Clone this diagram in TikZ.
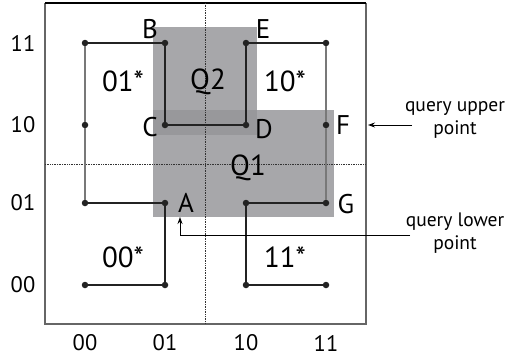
\documentclass[tikz,border=0pt]{standalone}
\usepackage{fontspec}
\setmainfont{PT Sans}
\usetikzlibrary{arrows.meta}
\definecolor{qone}{RGB}{167,167,170}
\definecolor{qover}{RGB}{152,152,155}
\definecolor{curve}{RGB}{35,35,35}
\definecolor{vgray}{RGB}{120,120,120}
\begin{document}
\begin{tikzpicture}[x=1pt,y=-1pt,
  dot/.style={circle,fill=curve,inner sep=0pt,minimum size=6.5pt},
  seg/.style={draw=curve,line width=1.1pt},
  vseg/.style={draw=vgray,line width=1.3pt},
  ptlabel/.style={font=\fontsize{27}{29}\selectfont,inner sep=0pt},
  quadlabel/.style={font=\fontsize{29}{31}\selectfont,inner sep=0pt},
  axlabel/.style={font=\fontsize{22.5}{24}\selectfont,inner sep=0pt},
  sidetext/.style={font=\fontsize{19.5}{23}\selectfont,align=center,inner sep=0pt},
  guide/.style={densely dotted,line width=0.7pt,draw=black!80},
  pointer/.style={draw=black,line width=0.9pt,-{Stealth[length=7pt,width=5pt]}}]
\useasboundingbox (0,0) rectangle (509,356);
% query rectangles
\fill[qone] (153,27) rectangle (257,135);
\fill[qone] (153,110) rectangle (334,217);
\fill[qover] (153,110) rectangle (257,135);
% frame
\draw[draw=black!60,line width=1.1pt] (45,3) -- (45,324) -- (366,324) -- (366,3);
\draw[draw=black,line width=1.1pt] (45,3) -- (366,3);
% dotted midlines
\draw[guide] (205,3) -- (205,324);
\draw[guide] (45,164) -- (366,164);
% grid points
\foreach \n/\x/\y in {p1/85/285,p2/165/285,p3/165/203,p4/85/203,p5/85/125,p6/85/43,p7/165/43,p8/165/125,p9/246/125,p10/246/43,p11/326/43,p12/326/125,p13/326/203,p14/246/203,p15/246/285,p16/326/285}
  \node[dot] (\n) at (\x,\y) {};
% curve
\draw[seg] (p1) -- (p2) -- (p3) -- (p4);
\draw[vseg] (p4) -- (p5) -- (p6);
\draw[seg] (p6) -- (p7) -- (p8) -- (p9) -- (p10) -- (p11);
\draw[vseg] (p11) -- (p12) -- (p13);
\draw[seg] (p13) -- (p14) -- (p15) -- (p16);
% point labels
\node[ptlabel] (lB) at (150,29) {B};
\node[ptlabel] (lE) at (263,29) {E};
\node[ptlabel] (lC) at (150,127) {C};
\node[ptlabel] (lD) at (264,129) {D};
\node[ptlabel] (lF) at (343,125) {F};
\node[ptlabel] (lG) at (346,204) {G};
\node[ptlabel] (lA) at (186,203) {A};
% region labels
\node[quadlabel] (q01) at (123,81) {01*};
\node[quadlabel] (q10) at (285,81) {10*};
\node[quadlabel] (q00) at (123,257) {00*};
\node[quadlabel] (q11) at (285,257) {11*};
\node[quadlabel] (Q2) at (208,82) {Q2};
\node[quadlabel] (Q1) at (248,168) {Q1};
% axis labels
\foreach \n/\t/\x in {b1/00/85,b2/01/165,b3/10/246,b4/11/326}
  \node[axlabel] (\n) at (\x,343) {\t};
\foreach \n/\t/\y in {l1/11/43,l2/10/125,l3/01/203,l4/00/285}
  \node[axlabel] (\n) at (23,\y) {\t};
% side annotations
\node[sidetext] (qu) at (455,120) {query upper\\point};
\node[sidetext] (ql) at (455,233) {query lower\\point};
\coordinate (quS) at (412,125);
\coordinate (quE) at (368,125);
\draw[pointer] (quS) -- (quE);
\coordinate (qlS) at (410,235);
\coordinate (qlE) at (180,217);
\draw[pointer] (qlS) -| (qlE);
\end{tikzpicture}
\end{document}
